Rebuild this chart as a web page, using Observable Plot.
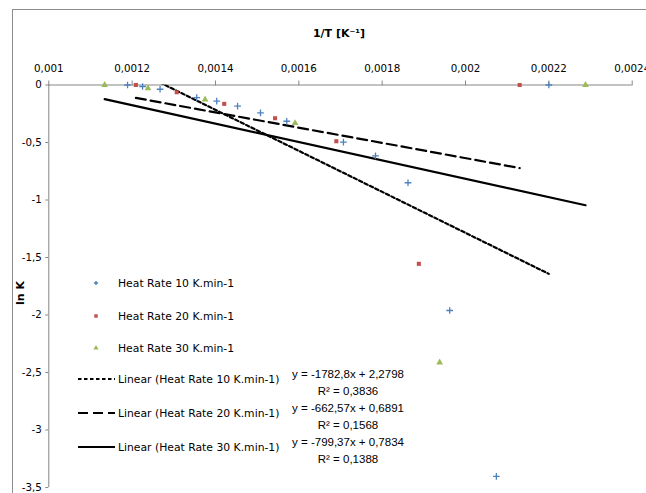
<!DOCTYPE html>
<html>
<head>
<meta charset="utf-8">
<script src="https://cdn.jsdelivr.net/npm/d3@7"></script>
<script src="https://cdn.jsdelivr.net/npm/@observablehq/plot@0.6"></script>
<style>
  html, body { margin: 0; padding: 0; background: #fff; }
  #chart { width: 646px; height: 493px; overflow: hidden; }
</style>
</head>
<body>
<div id="chart"></div>
<script>
// ---- data ----
const xTicks = [0.001, 0.0012, 0.0014, 0.0016, 0.0018, 0.002, 0.0022, 0.0024];
const yTicks = [0, -0.5, -1, -1.5, -2, -2.5, -3, -3.5];

const seriesNames = ["Heat Rate 10 K.min-1", "Heat Rate 20 K.min-1", "Heat Rate 30 K.min-1"];
const seriesColors = ["#4f81bd", "#c0504d", "#9bbb59"];

const rate10X = [0.001189, 0.001225, 0.001267, 0.001355, 0.001403, 0.001453, 0.001508, 0.001571, 0.001707, 0.001784, 0.001862, 0.001962, 0.002074, 0.0022];
const rate10Y = [0, -0.013, -0.037, -0.109, -0.141, -0.184, -0.242, -0.315, -0.497, -0.616, -0.85, -1.961, -3.404, 0];

const rate20X = [0.001209, 0.001307, 0.001421, 0.001543, 0.00169, 0.001888, 0.00213];
const rate20Y = [0, -0.063, -0.164, -0.289, -0.489, -1.555, 0];

const rate30X = [0.001134, 0.001238, 0.001375, 0.001591, 0.001938, 0.002288];
const rate30Y = [0, -0.028, -0.126, -0.332, -2.413, 0];

const trendNames = ["Linear (Heat Rate 10 K.min-1)", "Linear (Heat Rate 20 K.min-1)", "Linear (Heat Rate 30 K.min-1)"];
const trendSlopes = [-1782.8, -662.57, -799.37];
const trendIntercepts = [2.2798, 0.6891, 0.7834];
const trendEquations = ["y = -1782,8x + 2,2798", "y = -662,57x + 0,6891", "y = -799,37x + 0,7834"];
const trendR2 = ["R² = 0,3836", "R² = 0,1568", "R² = 0,1388"];

// ---- build tables ----
const xs = [rate10X, rate20X, rate30X];
const ys = [rate10Y, rate20Y, rate30Y];
const points = xs.flatMap((arr, s) => arr.map((x, i) => ({x, y: ys[s][i], s})));
const trends = xs.map((arr, s) => {
  const [x0, x1] = d3.extent(arr);
  return [x0, x1].map(x => ({x, y: trendSlopes[s] * x + trendIntercepts[s], s}));
});

const fmt = d => String(d).replace(".", ",");
const dashes = ["3.5,2.5", "10,5", null];

const font = "DejaVu Sans, Verdana, sans-serif";

const chart = Plot.plot({
  width: 646,
  height: 493,
  marginLeft: 48.3,
  marginRight: 14.3,
  marginTop: 84.5,
  marginBottom: 6,
  style: {fontFamily: font, fontSize: "10.3px", background: "#fff", color: "#000"},
  x: {domain: [0.001, 0.0024]},
  y: {domain: [-3.5, 0]},
  marks: [
    Plot.ruleY([0], {stroke: "#868686"}),
    Plot.ruleX([0.001], {stroke: "#868686"}),
    Plot.axisX({anchor: "top", ticks: xTicks, tickFormat: fmt, tickSize: 5, tickPadding: 8, label: null, stroke: "#868686", fill: "#000"}),
    Plot.axisY({anchor: "left", ticks: yTicks, tickFormat: fmt, tickSize: 3, tickPadding: 4, label: null, stroke: "#868686", fill: "#000"}),
    ...trends.map((t, s) => Plot.line(t, {x: "x", y: "y", stroke: "#000", strokeWidth: 2.2, strokeDasharray: dashes[s], clip: true})),
    Plot.dot(points.filter(d => d.s === 0), {x: "x", y: "y", symbol: "plus", r: 2.3, stroke: seriesColors[0], strokeWidth: 1.3}),
    Plot.dot(points.filter(d => d.s === 1), {x: "x", y: "y", symbol: "square", r: 2.3, fill: seriesColors[1]}),
    Plot.dot(points.filter(d => d.s === 2), {x: "x", y: "y", symbol: "triangle", r: 2.5, fill: seriesColors[2]})
  ]
});

document.getElementById("chart").appendChild(chart);

// ---- decorations: border, titles, legend ----
const svg = d3.select(chart);
svg.insert("rect", ":first-child")
  .attr("x", 12.5).attr("y", 9.5).attr("width", 700).attr("height", 600)
  .attr("fill", "#fff").attr("stroke", "#8c8c8c");

svg.append("text")
  .attr("x", 339).attr("y", 37)
  .attr("text-anchor", "middle")
  .attr("font-family", font).attr("font-size", "11px").attr("font-weight", "bold")
  .text("1/T [K⁻¹]");

svg.append("text")
  .attr("transform", "translate(24,293) rotate(-90)")
  .attr("text-anchor", "middle")
  .attr("font-family", font).attr("font-size", "11px").attr("font-weight", "bold")
  .text("ln K");

const lg = svg.append("g").attr("font-family", font).attr("font-size", "10.8px")
  .attr("fill", "#000").attr("text-anchor", "start");
const markerY = [283, 316, 348];
const symbols = [d3.symbolCross, d3.symbolSquare, d3.symbolTriangle];
seriesNames.forEach((name, s) => {
  lg.append("path")
    .attr("transform", `translate(96,${markerY[s]})`)
    .attr("d", d3.symbol(symbols[s], s === 0 ? 10 : 12)())
    .attr("fill", seriesColors[s]);
  lg.append("text").attr("x", 118).attr("y", markerY[s]).attr("dy", "0.35em")
    .attr("text-anchor", "start").text(name);
});
const lineY = [379, 413, 447];
trendNames.forEach((name, s) => {
  lg.append("line")
    .attr("x1", 78).attr("x2", 115).attr("y1", lineY[s]).attr("y2", lineY[s])
    .attr("stroke", "#000").attr("stroke-width", 2)
    .attr("stroke-dasharray", dashes[s]);
  lg.append("text").attr("x", 118).attr("y", lineY[s]).attr("dy", "0.35em")
    .attr("text-anchor", "start").text(name);
  lg.append("text").attr("x", 348).attr("y", lineY[s] - 5).attr("dy", "0.35em")
    .attr("text-anchor", "middle").attr("font-family", "Liberation Sans, Arial, sans-serif").attr("font-size", "11.5px")
    .text(trendEquations[s]);
  lg.append("text").attr("x", 348).attr("y", lineY[s] + 12).attr("dy", "0.35em")
    .attr("text-anchor", "middle").attr("font-family", "Liberation Sans, Arial, sans-serif").attr("font-size", "11.5px")
    .text(trendR2[s]);
});
</script>
</body>
</html>
